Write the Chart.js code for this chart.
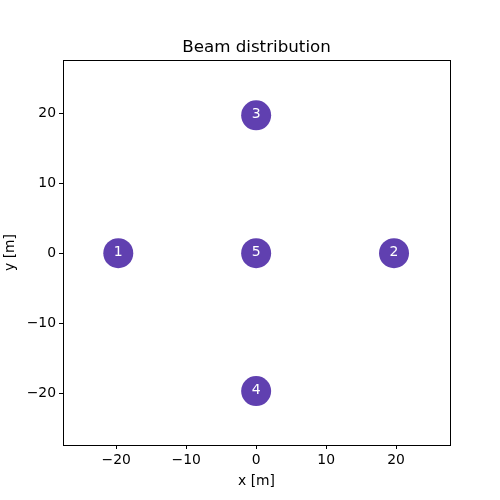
<!DOCTYPE html>
<html><head><meta charset="utf-8">
<script src="https://cdn.jsdelivr.net/npm/chart.js@4"></script>
<style>html,body{margin:0;padding:0;background:#fff}#w{width:500px;height:500px}</style>
</head><body><div id="w"><canvas id="c"></canvas></div>
<script>
const beamLabels = ['1','2','3','4','5'];
const beamX = [-19.7, 19.7, 0, 0, 0];
const beamY = [0, 0, 19.7, -19.7, 0];
const xTicks = [-20,-10,0,10,20];
const yTicks = [-20,-10,0,10,20];
const titleText = 'Beam distribution';
const xTitle = 'x [m]';
const yTitle = 'y [m]';
const color = '#6040b0';
const FONT = 'DejaVu Sans';

const pts = beamX.map((x,i)=>({x:x,y:beamY[i]}));

const deco = {
  id:'deco',
  afterDraw(chart){
    const {ctx, chartArea:a} = chart;
    ctx.save();
    ctx.strokeStyle='#000'; ctx.lineWidth=1;
    ctx.strokeRect(Math.round(a.left)+0.5, Math.round(a.top)+0.5, Math.round(a.right-a.left), Math.round(a.bottom-a.top));
    ctx.fillStyle='#000';
    ctx.font = '16.7px "'+FONT+'"';
    ctx.textAlign='center'; ctx.textBaseline='alphabetic';
    ctx.fillText(titleText, (a.left+a.right)/2, 52);
    const meta = chart.getDatasetMeta(0);
    ctx.fillStyle='#fff';
    ctx.font = '14px "'+FONT+'"';
    ctx.textBaseline='middle';
    meta.data.forEach((p,i)=>{ ctx.fillText(beamLabels[i], p.x, p.y-1); });
    ctx.restore();
  }
};

const tickCb = v => String(v).replace('-','\u2212');

new Chart(document.getElementById('c'), {
  type:'scatter',
  data:{datasets:[{data:pts, backgroundColor:color, borderColor:color, pointRadius:15, pointHoverRadius:15, borderWidth:0}]},
  options:{
    responsive:true, maintainAspectRatio:false, animation:false,
    layout:{padding:{top:60, right:50, left:0, bottom:0}},
    plugins:{legend:{display:false}, tooltip:{enabled:false}, title:{display:false}},
    scales:{
      x:{type:'linear', min:-27.6, max:27.7,
        afterBuildTicks: ax => { ax.ticks = xTicks.map(v=>({value:v})); },
        afterFit: ax => { ax.height = 55; },
        ticks:{callback:tickCb, color:'#000', font:{family:FONT,size:13.9}, padding:3, maxRotation:0, autoSkip:false},
        grid:{drawOnChartArea:false, drawTicks:true, tickLength:4, color:'#000'},
        border:{display:true, color:'#000'},
        title:{display:true, text:xTitle, color:'#000', font:{family:FONT,size:13.9}, padding:{top:0,bottom:10}}
      },
      y:{type:'linear', min:-27.4, max:27.6,
        afterBuildTicks: ax => { ax.ticks = yTicks.map(v=>({value:v})); },
        afterFit: ax => { ax.width = 63; },
        ticks:{callback:tickCb, color:'#000', font:{family:FONT,size:13.9}, padding:3, autoSkip:false},
        grid:{drawOnChartArea:false, drawTicks:true, tickLength:4, color:'#000'},
        border:{display:true, color:'#000'},
        title:{display:true, text:yTitle, color:'#000', font:{family:FONT,size:13.9}, padding:{top:2,bottom:0}}
      }
    }
  },
  plugins:[deco]
});
</script></body></html>
